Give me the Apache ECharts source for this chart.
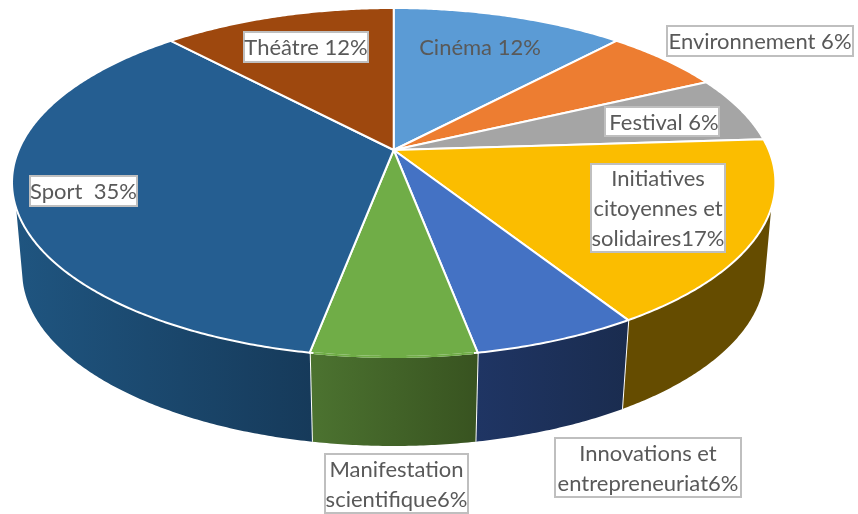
<!DOCTYPE html>
<html>
<head>
<meta charset="utf-8">
<title>Répartition</title>
<style>
  html, body { margin: 0; padding: 0; background: #fff; }
  #chart { width: 858px; height: 514px; }
</style>
<script src="https://cdn.jsdelivr.net/npm/echarts@6/dist/echarts.min.js"></script>
</head>
<body>
<div id="chart"></div>
<script>
// data
const categories = ['Cinéma', 'Environnement', 'Festival', 'Initiatives citoyennes et solidaires', 'Innovations et entrepreneuriat', 'Manifestation scientifique', 'Sport', 'Théâtre']
const values = [12, 6, 6, 17, 6, 6, 35, 12]
const labelTexts = [
  'Cinéma 12%',
  'Environnement 6%',
  'Festival 6%',
  'Initiatives\ncitoyennes et\nsolidaires17%',
  'Innovations et\nentrepreneuriat6%',
  'Manifestation\nscientifique6%',
  'Sport  35%',
  'Théâtre 12%',
]

// look
const FONT = 'Lato, sans-serif'
const FONT_SIZE = 22
const TOP_COLORS = ['#5b9bd5', '#ed7d31', '#a5a5a5', '#fbbd00', '#4472c4', '#70ad47', '#255e91', '#9e480e']
const SIDE_COLORS = [null, null, null, ['#654c00', '#654c00'], ['#1f3564', '#1a2c4f'], ['#4c7330', '#385320'], ['#1f5580', '#163a5a'], null]
// label boxes: x, y, width, height, boxed, text shift (no box for Cinéma)
const LABEL_BOXES = [
  [420, 32, 120, 30, false, 0],
  [667, 26, 186, 30, true, 0],
  [605, 107, 114, 29, true, 2],
  [591, 164, 134, 88, true, 0],
  [555, 438, 186, 59, true, 0],
  [325, 454, 143, 59, true, 0],
  [30, 176, 107, 30, true, 0],
  [244, 32, 124, 30, true, 0],
]

// perspective of the disc
const CX = 393.7
const CY = 150
const RX_TOP = 375
const RX_BOTTOM = 365
const RY = 140.5
const PERSP = -0.1862
const DEPTH = 89
// pulls the slice edges a little towards the vertical axis, degrees
const ANGLE_WARP = 0.7
// where the side wall stops being visible, degrees clockwise from the top
const SIDE_FROM = 108.5
const SIDE_TO = 251.5
const SIDE_BOTTOM_SHIFT = 5
// the green slice has no white rim above its wall
const NO_RIM_INDEX = 5

const total = values.reduce((a, b) => a + b, 0)
const starts = []
values.reduce((acc, v, i) => {
  starts[i] = acc
  return acc + v
}, 0)
const startAngle = (i) => (starts[i] / total) * 360
const endAngle = (i) => ((starts[i] + values[i]) / total) * 360

const project = (deg, rx, dy) => {
  const t = ((deg - ANGLE_WARP * Math.sin((2 * deg * Math.PI) / 180)) * Math.PI) / 180
  const u = Math.sin(t)
  const v = -Math.cos(t)
  const d = 1 + PERSP * v
  return [CX + (rx * u) / d, (CY + RY * v) / d + dy]
}

const arc = (from, to, rx, dy) => {
  const pts = []
  const n = Math.max(2, Math.ceil(Math.abs(to - from) * 2))
  for (let i = 0; i <= n; i++) pts.push(project(from + ((to - from) * i) / n, rx, dy))
  return pts
}

const renderSide = (params) => {
  const i = params.dataIndex
  const a0 = startAngle(i)
  const a1 = endAngle(i)
  if (!SIDE_COLORS[i]) return null
  const from = Math.max(a0, SIDE_FROM)
  const to = Math.min(a1, SIDE_TO)
  const bFrom = a0 < SIDE_FROM ? SIDE_FROM - SIDE_BOTTOM_SHIFT : from
  const bTo = a1 > SIDE_TO ? SIDE_TO + SIDE_BOTTOM_SHIFT : to
  const points = arc(from, to, RX_TOP, 0).concat(arc(bTo, bFrom, RX_BOTTOM, DEPTH))
  const children = [{
    type: 'polygon',
    shape: { points },
    style: {
      fill: new echarts.graphic.LinearGradient(0, 0, 1, 0, [
        { offset: 0, color: SIDE_COLORS[i][0] },
        { offset: 1, color: SIDE_COLORS[i][1] },
      ]),
    },
  }]
  // white edge between two walls
  if (a1 <= SIDE_TO) {
    const p0 = project(a1, RX_TOP, 0)
    const p1 = project(a1, RX_BOTTOM, DEPTH)
    children.push({
      type: 'line',
      shape: { x1: p0[0], y1: p0[1], x2: p1[0], y2: p1[1] },
      style: { stroke: '#fff', lineWidth: 2 },
    })
  }
  return { type: 'group', children }
}

const renderTop = (params) => {
  const i = params.dataIndex
  const rim = arc(startAngle(i), endAngle(i), RX_TOP, 0)
  const children = [{
    type: 'polygon',
    shape: { points: [[CX, CY]].concat(rim) },
    style: { fill: TOP_COLORS[i], stroke: '#fff', lineWidth: 2, lineJoin: 'round' },
  }]
  if (i === NO_RIM_INDEX) {
    children.push({
      type: 'polyline',
      shape: { points: rim.slice(1, -1) },
      style: { fill: null, stroke: TOP_COLORS[i], lineWidth: 2 },
    })
  }
  return { type: 'group', children }
}

const renderLabel = (params) => {
  const i = params.dataIndex
  const [x, y, w, h, boxed, shift] = LABEL_BOXES[i]
  const children = []
  if (boxed) {
    children.push({
      type: 'rect',
      shape: { x, y, width: w, height: h },
      style: { fill: '#fff', stroke: '#bfbfbf', lineWidth: 2 },
    })
  }
  children.push({
    type: 'text',
    style: {
      text: labelTexts[i],
      x: x + w / 2 + shift,
      y: y + h / 2 + 1,
      align: 'center',
      verticalAlign: 'middle',
      font: `${FONT_SIZE}px ${FONT}`,
      lineHeight: 30,
      fill: '#595959',
    },
  })
  return { type: 'group', children }
}

const seriesData = categories.map((name, i) => ({ name, value: values[i] }))

const chart = echarts.init(document.getElementById('chart'))
chart.setOption({
  animation: false,
  backgroundColor: '#fff',
  series: [
    { type: 'custom', coordinateSystem: 'none', z: 1, silent: true, data: seriesData, renderItem: renderSide },
    { type: 'custom', coordinateSystem: 'none', z: 2, silent: true, data: seriesData, renderItem: renderTop },
    { type: 'custom', coordinateSystem: 'none', z: 3, silent: true, data: seriesData, renderItem: renderLabel },
  ],
})
</script>
</body>
</html>
